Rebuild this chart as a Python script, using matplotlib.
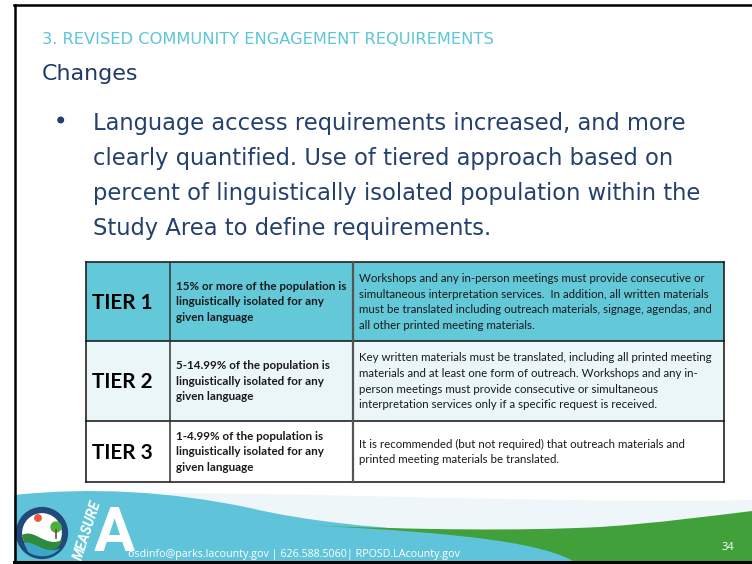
import matplotlib
matplotlib.use("Agg")
import matplotlib.pyplot as plt
from matplotlib import font_manager
from matplotlib.path import Path
from matplotlib.patches import PathPatch, Rectangle, Circle

# ---------------- content ----------------
section_title = "3. REVISED COMMUNITY ENGAGEMENT REQUIREMENTS"
slide_title = "Changes"
bullet_lines = [
    "Language access requirements increased, and more",
    "clearly quantified. Use of tiered approach based on",
    "percent of linguistically isolated population within the",
    "Study Area to define requirements.",
]
tiers = ["TIER 1", "TIER 2", "TIER 3"]
criteria = [
    ["15% or more of the population is", "linguistically isolated for any", "given language"],
    ["5-14.99% of the population is", "linguistically isolated for any", "given language"],
    ["1-4.99% of the population is", "linguistically isolated for any", "given language"],
]
requirements = [
    ["Workshops and any in-person meetings must provide consecutive or",
     "simultaneous interpretation services.  In addition, all written materials",
     "must be translated including outreach materials, signage, agendas, and",
     "all other printed meeting materials."],
    ["Key written materials must be translated, including all printed meeting",
     "materials and at least one form of outreach. Workshops and any in-",
     "person meetings must provide consecutive or simultaneous",
     "interpretation services only if a specific request is received."],
    ["It is recommended (but not required) that outreach materials and",
     "printed meeting materials be translated."],
]
footer_text = "osdinfo@parks.lacounty.gov | 626.588.5060| RPOSD.LAcounty.gov"
page_number = "34"
logo_word = "MEASURE"
logo_letter = "A"


def pick(cands):
    for c in cands:
        try:
            font_manager.findfont(font_manager.FontProperties(family=c), fallback_to_default=False)
            return c
        except Exception:
            pass
    return "DejaVu Sans"

HEAD_FONT = pick(["DejaVu Sans"])
FOOT_FONT = pick(["Open Sans", "Lato", "DejaVu Sans"])
TAB_FONT = pick(["Lato", "Open Sans", "DejaVu Sans"])
NARROW = pick(["Liberation Sans Narrow", "Roboto", "DejaVu Sans"])

W, H = 752, 564
fig = plt.figure(figsize=(W / 100, H / 100), dpi=100)
ax = fig.add_axes([0, 0, 1, 1])
ax.set_xlim(0, W)
ax.set_ylim(H, 0)
ax.axis("off")
fig.patch.set_facecolor("white")
renderer = fig.canvas.get_renderer()


def fit_size(s, target_w, **kw):
    t = ax.text(0, 0, s, fontsize=10, **kw)
    w = t.get_window_extent(renderer).width
    t.remove()
    return 10 * target_w / w


def line(x, y, s, fs, **kw):
    return ax.text(x, y, s, fontsize=fs, va="baseline", **kw)

# ---------------- header ----------------
TEAL = "#5CC6DA"
NAVY = "#1F3A68"
fs = fit_size(section_title, 450, family=HEAD_FONT)
line(41.7, 44, section_title, fs, family=HEAD_FONT, color=TEAL)
fs = fit_size(slide_title, 96, family=HEAD_FONT)
line(41.7, 80, slide_title, fs, family=HEAD_FONT, color=NAVY)

fs_b = fit_size(bullet_lines[0], 592, family=HEAD_FONT)
for i, s in enumerate(bullet_lines):
    line(93, 130 + 35 * i, s, fs_b, family=HEAD_FONT, color="#23406F")
ax.add_patch(Circle((60.7, 120), 2.8, color="#23406F", zorder=3))

# ---------------- table ----------------
ys = [262, 341, 421, 482]
xs = [86, 170, 353, 724]
fills = ["#63C8D8", "#EAF6F8", "#FFFFFF"]
for r in range(3):
    ax.add_patch(Rectangle((xs[0], ys[r]), xs[-1] - xs[0], ys[r + 1] - ys[r],
                           facecolor=fills[r], edgecolor="none", zorder=1))

fs_tier = fit_size(tiers[0], 61, family=TAB_FONT, weight="bold")
fs_crit = fit_size(criteria[0][0], 170, family=TAB_FONT, weight="bold")
fs_req = fit_size(requirements[1][0], 355, family=TAB_FONT)
lh = 15.6
for r in range(3):
    cy = (ys[r] + ys[r + 1]) / 2
    cap_t = fs_tier * 100 / 72 * 0.36
    line(92, cy + cap_t, tiers[r], fs_tier, family=TAB_FONT, weight="bold", color="black", zorder=4)
    n = len(criteria[r])
    cap_c = fs_crit * 100 / 72 * 0.33
    for i, s in enumerate(criteria[r]):
        yy = cy + (i - (n - 1) / 2) * lh + cap_c
        line(176, yy, s, fs_crit, family=TAB_FONT, weight="bold", color="#1a1a1a", zorder=4)
    n = len(requirements[r])
    cap_r = fs_req * 100 / 72 * 0.33
    for i, s in enumerate(requirements[r]):
        yy = cy + (i - (n - 1) / 2) * lh + cap_r
        line(359, yy, s, fs_req, family=TAB_FONT, color="#1a1a1a", zorder=4)

for y in ys:
    ax.plot([xs[0], xs[-1]], [y, y], color="#111111", lw=1.1, zorder=5, solid_capstyle="projecting")
ax.plot([xs[0], xs[0]], [ys[0], ys[-1]], color="#111111", lw=1.1, zorder=5)
ax.plot([xs[-1], xs[-1]], [ys[0], ys[-1]], color="#111111", lw=1.1, zorder=5)
ax.plot([xs[1], xs[1]], [ys[0], ys[-1]], color="#333333", lw=1.1, zorder=5)
ax.plot([xs[2], xs[2]], [ys[0], ys[-1]], color="#555555", lw=1.6, zorder=5)

# ---------------- footer ----------------
BLUE = "#5FC4DA"
GREEN = "#42A03B"
M, L, C = Path.MOVETO, Path.LINETO, Path.CURVE4
haze = Path([(14, 497), (200, 485), (500, 505), (752, 500), (752, 530), (14, 530), (14, 497)],
            [M, C, C, C, L, L, L])
ax.add_patch(PathPatch(haze, facecolor="#EEF6F9", edgecolor="none", zorder=1))
blue = Path([(14, 495), (90, 487), (170, 491), (250, 508),
             (300, 520), (380, 530), (470, 532),
             (752, 532), (752, 562), (14, 562), (14, 495)],
            [M, C, C, C, C, C, C, L, L, L, L])
ax.add_patch(PathPatch(blue, facecolor=BLUE, edgecolor="none", zorder=2))
green = Path([(300, 525), (420, 530), (520, 531), (600, 527),
              (660, 523), (710, 516), (752, 511),
              (752, 562), (575, 562),
              (545, 545), (480, 533), (300, 525)],
             [M, C, C, C, C, C, C, L, L, C, C, C])
ax.add_patch(PathPatch(green, facecolor=GREEN, edgecolor="none", zorder=3))

# logo
ax.add_patch(Circle((42, 533), 23, facecolor="white", edgecolor="#1F4A7A", lw=4.5, zorder=4))
swirl_g = Path([(22, 535), (35, 528), (45, 548), (62, 540), (60, 550), (45, 558), (25, 545), (22, 535)],
               [M, C, C, C, C, C, C, L])
ax.add_patch(PathPatch(swirl_g, facecolor="#2E8B3E", edgecolor="none", zorder=5))
swirl_b = Path([(24, 543), (35, 540), (45, 556), (60, 548), (55, 556), (40, 560), (28, 552), (24, 543)],
               [M, C, C, C, C, C, C, L])
ax.add_patch(PathPatch(swirl_b, facecolor="#3BA6C8", edgecolor="none", zorder=5))
ax.add_patch(Circle((38, 518), 3.2, color="#E8553A", zorder=5))
ax.add_patch(Circle((56, 527), 5, color="#4CAF3E", zorder=5))
ax.plot([56, 56], [530, 538], color="#6B4A2A", lw=1.2, zorder=5)

ax.text(88, 530, logo_word, fontsize=10, rotation=72, color="white", weight="bold", style="italic",
        ha="center", va="center", family=NARROW, zorder=6)
ax.text(114, 563, logo_letter, fontsize=44, color="white", weight="bold", ha="center", va="bottom",
        family=NARROW, zorder=6)

fs_f = fit_size(footer_text, 335, family=FOOT_FONT)
line(128, 557, footer_text, fs_f, family=FOOT_FONT, color="white", zorder=6)
line(728, 550, page_number, 8, family=FOOT_FONT, color="white", ha="center", zorder=6)

# ---------------- slide frame ----------------
ax.plot([14, W], [4.5, 4.5], color="black", lw=1.8, zorder=7)
ax.plot([15, 15], [4.5, 562], color="black", lw=1.8, zorder=7)
ax.plot([14, W], [561.5, 561.5], color="black", lw=2.2, zorder=7)

fig.savefig("out.png", dpi=100, facecolor="white")
